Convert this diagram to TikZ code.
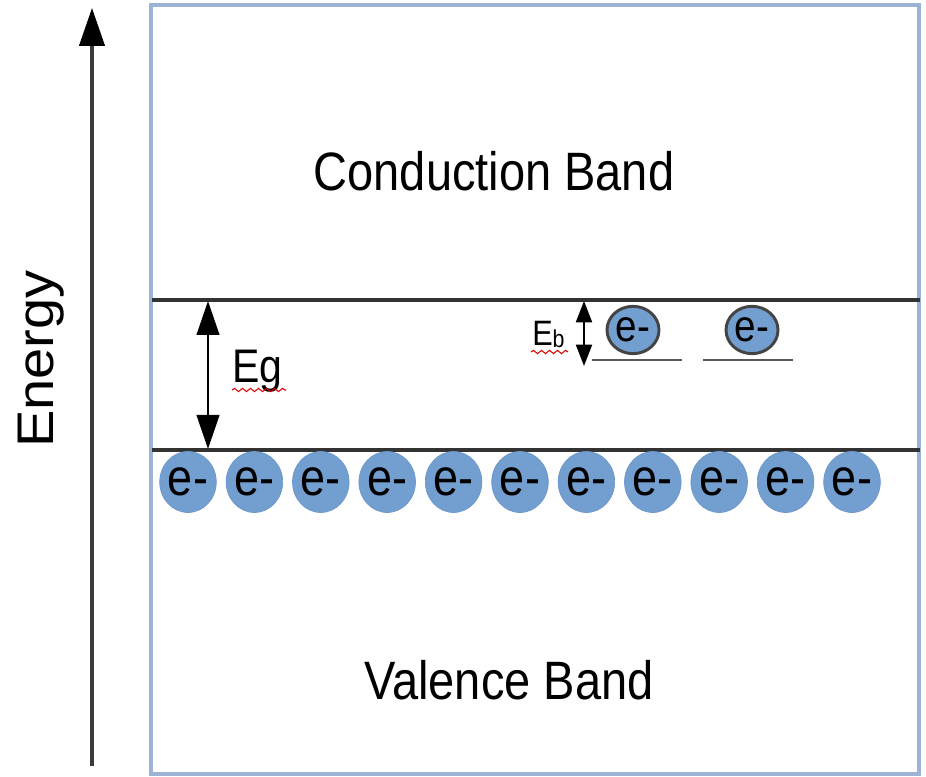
\documentclass[tikz,border=0pt]{standalone}
\usepackage{fontspec}
\setmainfont{Liberation Sans}
\usetikzlibrary{arrows.meta,shapes.geometric,decorations.pathmorphing}
\definecolor{framec}{HTML}{9DB3D6}
\definecolor{bandline}{HTML}{333333}
\definecolor{efill}{HTML}{729FCF}
\definecolor{eedge}{HTML}{6A96CB}
\definecolor{ering}{HTML}{444444}
\definecolor{axisc}{HTML}{3A3A3A}
% taller letter shapes, as the labels are set
\newcommand\tallbox[1]{\scalebox{1}[1.15]{#1}}
\tikzset{
  bandedge/.style={draw=bandline, line width=2.6pt},
  electron/.style={ellipse, fill=efill, draw=eedge, line width=0.5pt,
    inner sep=0pt, minimum width=42pt, minimum height=45.75pt,
    font=\fontsize{33.75}{36}\selectfont},
  trapped/.style={ellipse, fill=efill, draw=ering, line width=2.2pt,
    inner sep=0pt, minimum width=39pt, minimum height=35.5pt,
    font=\fontsize{29}{31}\selectfont},
  gaparrow/.style={line width=1.5pt, black, {Triangle[length=25.5pt,width=17pt]}-{Triangle[length=25.5pt,width=17pt]}},
  bindarrow/.style={line width=1.5pt, black, {Triangle[length=16pt,width=12pt]}-{Triangle[length=16pt,width=12pt]}},
  level/.style={draw=black!65, line width=1.2pt},
  squiggle/.style={draw=red!85!black, line width=0.8pt,
    decorate, decoration={snake, segment length=6pt, amplitude=1.2pt}},
}
\begin{document}
\begin{tikzpicture}[x=0.75pt, y=-0.75pt]
\useasboundingbox (0,0) rectangle (926,777);

% energy axis
\coordinate (axlow) at (92,766);
\coordinate (axhigh) at (92,8);
\draw[line width=2.4pt, axisc, -{Triangle[length=28.5pt,width=19pt,color=black]}] (axlow) -- (axhigh);
\node[rotate=90, anchor=base west, inner sep=0pt, font=\fontsize{42}{44}\selectfont]
  (energy) at (53,448) {\scalebox{1}[0.92]{Energy}};

% frame of the band diagram
\draw[framec, line width=2.4pt] (151,5) rectangle (919,774);

% band edges
\coordinate (cbl) at (152,300);
\coordinate (cbr) at (920,300);
\coordinate (vbl) at (152,450);
\coordinate (vbr) at (920,450);
\draw[bandedge] (cbl) -- (cbr);
\draw[bandedge] (vbl) -- (vbr);

% band labels
\node[anchor=base, inner sep=0pt, font=\fontsize{35.25}{38}\selectfont]
  (cb) at (494,191) {\tallbox{Conduction Band}};
\node[anchor=base, inner sep=0pt, font=\fontsize{35.25}{38}\selectfont]
  (vb) at (509,700) {\tallbox{Valence Band}};

% band gap
\coordinate (egtop) at (208,301);
\coordinate (egbot) at (208,449);
\draw[gaparrow] (egtop) -- (egbot);
\node[anchor=base west, inner sep=0pt, font=\fontsize{30.75}{33}\selectfont]
  (eg) at (232,383) {\tallbox{Eg}};
\draw[squiggle] (232,390) -- (286,390);

% valence electrons
\foreach \i in {0,...,10} {
  \node[electron] (v\i) at ({188+66.4*\i},482) {\tallbox{e-}};
}

% bound electrons below the conduction band
\draw[level] (592,360) coordinate (la) -- (682,360) coordinate (lb);
\draw[level] (703,360) coordinate (lc) -- (793,360) coordinate (ld);
\node[trapped] (t1) at (633,330) {\tallbox{e-}};
\node[trapped] (t2) at (752,330) {\tallbox{e-}};

% binding energy
\coordinate (ebtop) at (584,301);
\coordinate (ebbot) at (584,366);
\draw[bindarrow] (ebtop) -- (ebbot);
\node[anchor=base west, inner sep=0pt, font=\fontsize{23}{25}\selectfont]
  (eb) at (532,346) {\tallbox{E\raisebox{-1pt}{\fontsize{16}{18}\selectfont b}}};
\draw[squiggle] (531,352) -- (568,352);
\end{tikzpicture}
\end{document}
